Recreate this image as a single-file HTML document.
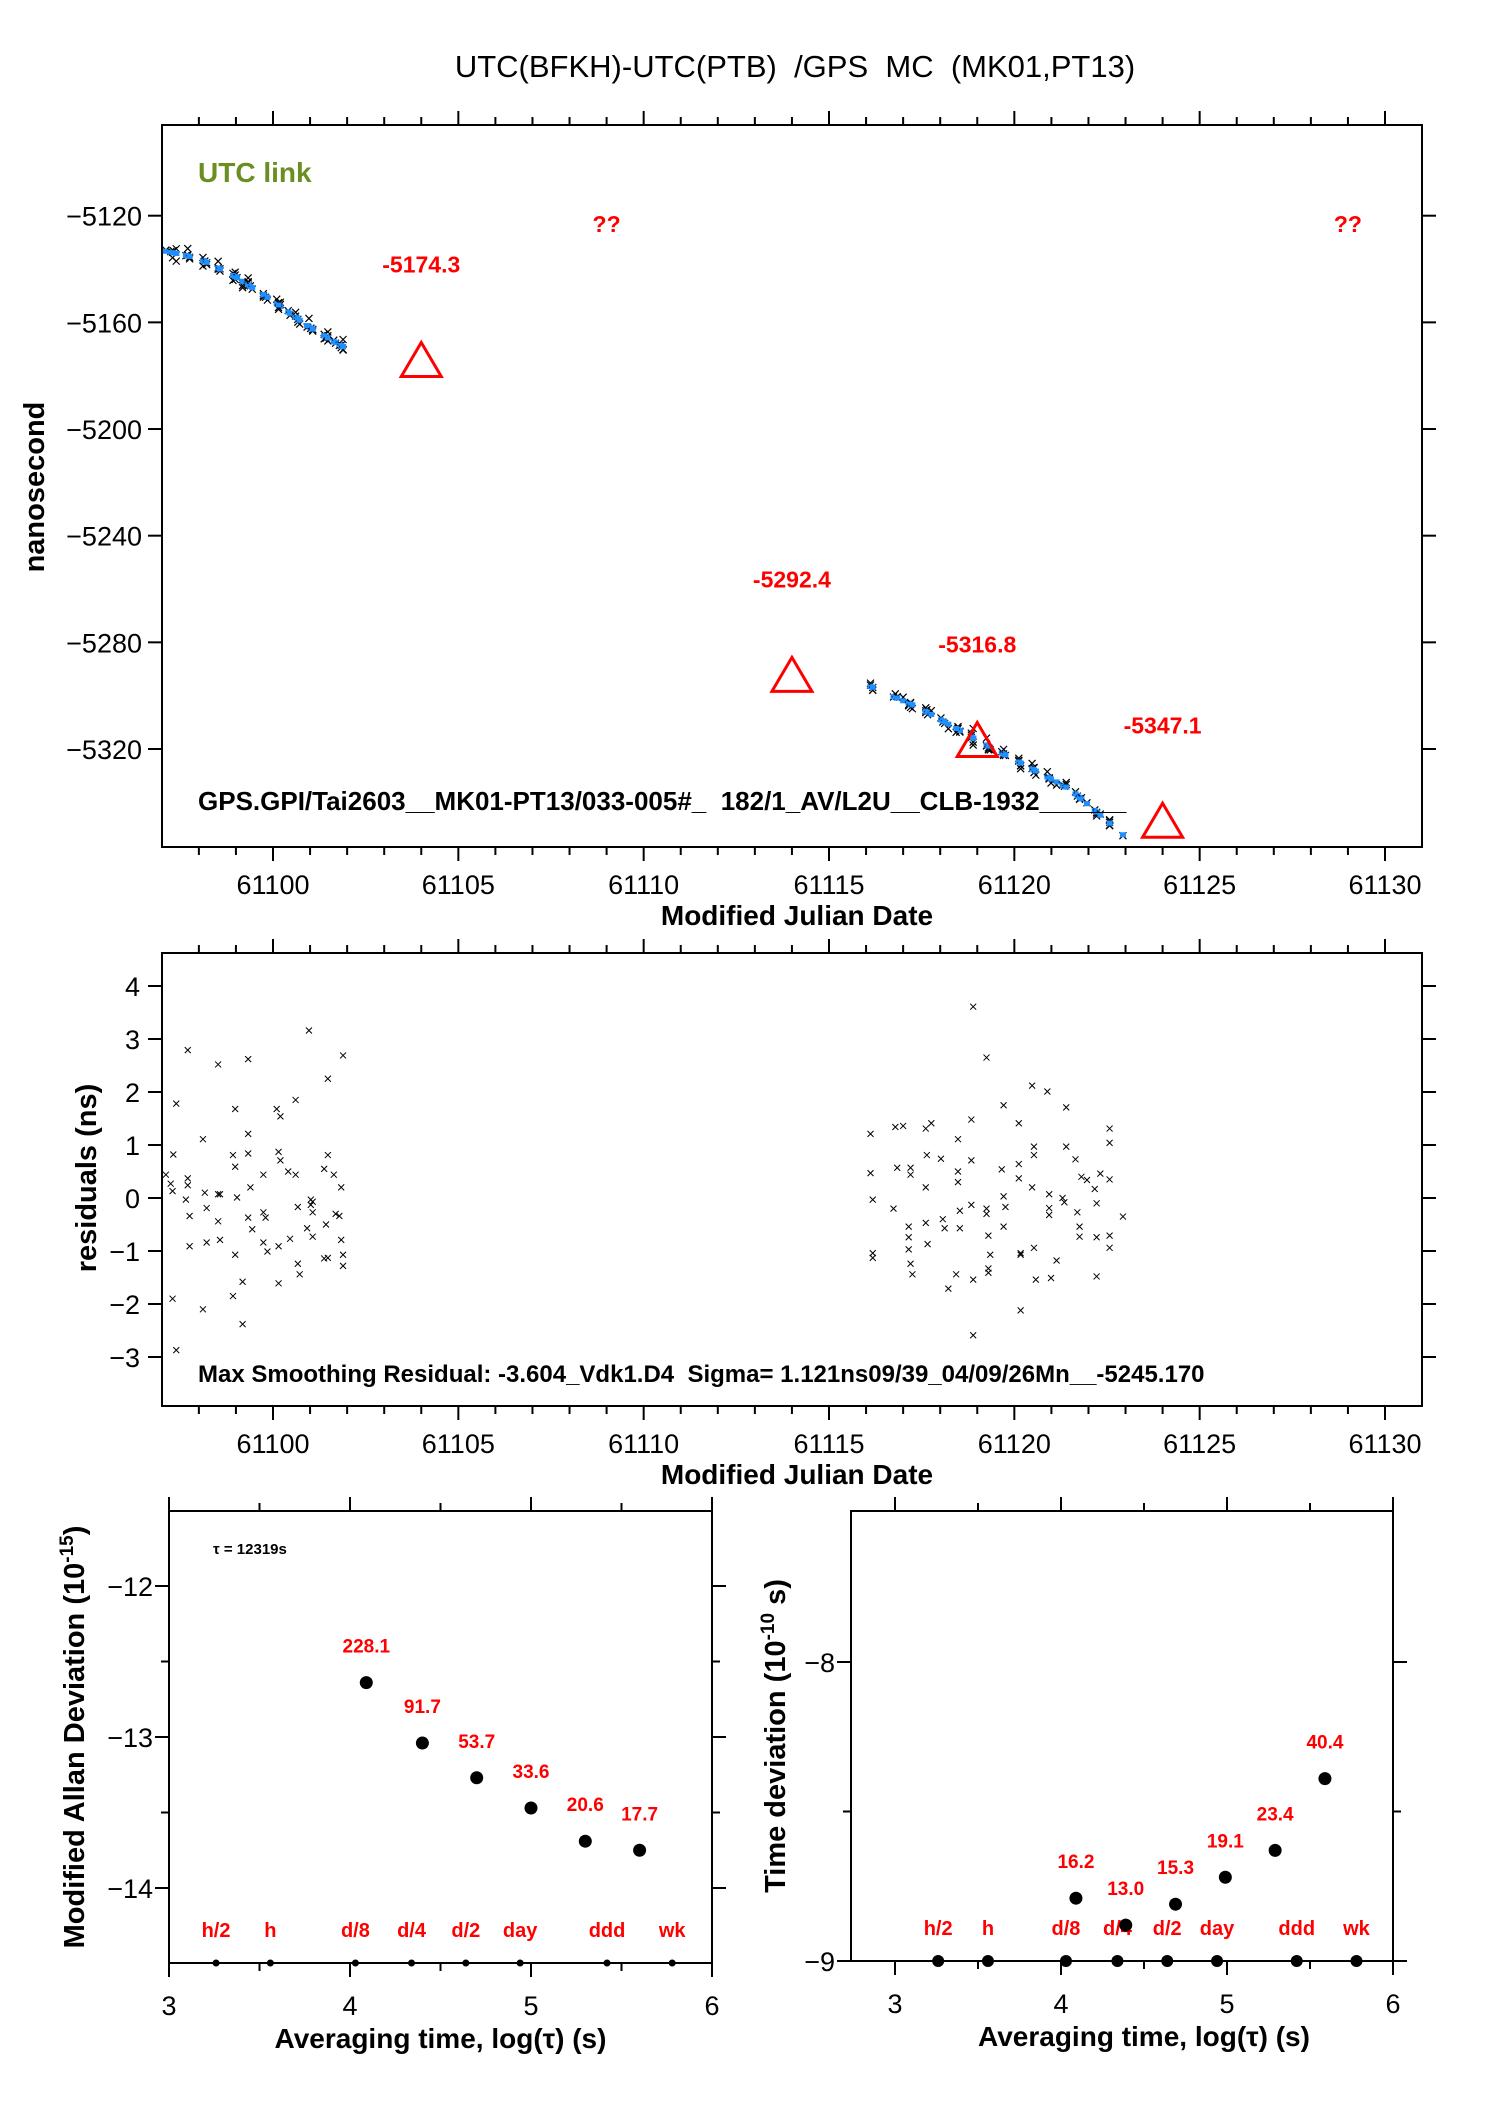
<!DOCTYPE html>
<html><head><meta charset="utf-8"><style>
html,body{margin:0;padding:0;background:#fff}
svg{display:block;font-family:"Liberation Sans",sans-serif}
text{white-space:pre}
</style></head><body>
<svg id="s" width="1488" height="2105" viewBox="0 0 1488 2105" xmlns="http://www.w3.org/2000/svg">
<text x="795" y="77" font-size="31" text-anchor="middle">UTC(BFKH)-UTC(PTB)  /GPS  MC  (MK01,PT13)</text>
<g id="topPlot"></g>
<g id="midPlot"></g>
<g id="adevPlot"></g>
<g id="tdevPlot"></g>
</svg>
<script>
// ---- data ----
const resMjdA=[61097.11,61097.24,61097.29,61097.31,61097.39,61097.29,61097.39,61097.70,61097.70,61097.70,61097.75,61097.65,61097.75,61098.11,61098.11,61098.16,61098.21,61098.21,61098.52,61098.52,61098.57,61098.52,61098.57,61098.92,61098.98,61098.98,61098.98,61098.92,61099.03,61099.18,61099.18,61099.33,61099.33,61099.33,61099.33,61099.39,61099.44,61099.74,61099.74,61099.80,61099.74,61099.85,61100.10,61100.15,61100.20,61100.20,61100.15,61100.15,61100.41,61100.46,61100.61,61100.61,61100.67,61100.67,61100.72,61100.97,61101.02,61101.07,61101.02,61101.07,61100.92,61101.07,61101.38,61101.48,61101.48,61101.43,61101.38,61101.48,61101.64,61101.69,61101.79,61101.84,61101.89,61101.84,61101.89,61101.89];
const resValA=[0.44,0.27,0.13,0.82,1.78,-1.90,-2.87,2.79,0.37,0.24,-0.34,-0.03,-0.91,1.11,-2.10,0.10,-0.19,-0.84,2.52,0.07,0.07,-0.44,-0.79,0.81,0.59,1.68,-1.07,-1.85,0.01,-2.38,-1.58,0.84,1.21,2.62,-0.37,0.20,-0.59,0.44,-0.27,-0.37,-0.84,-1.01,1.68,0.87,1.54,0.71,-0.91,-1.61,0.50,-0.77,1.85,0.44,-0.17,-1.24,-1.44,3.16,-0.03,-0.07,-0.13,-0.27,-0.57,-0.73,0.55,0.81,2.25,-0.50,-1.14,-1.13,0.44,-0.30,-0.34,0.20,2.69,-0.79,-1.07,-1.28];
const resMjdB=[61116.12,61116.12,61116.18,61116.18,61116.18,61116.74,61116.79,61116.84,61117.00,61117.15,61117.15,61117.15,61117.20,61117.20,61117.20,61117.25,61117.61,61117.61,61117.64,61117.61,61117.66,61117.76,61118.02,61118.07,61118.12,61118.48,61118.48,61118.48,61118.53,61118.53,61118.43,61118.22,61118.84,61118.84,61118.84,61118.89,61118.89,61118.89,61119.25,61119.25,61119.25,61119.30,61119.30,61119.35,61119.30,61119.66,61119.71,61119.71,61119.71,61119.76,61120.12,61120.12,61120.12,61120.17,61120.17,61120.17,61120.48,61120.53,61120.53,61120.48,61120.53,61120.58,61120.89,61120.94,61120.94,61120.94,61120.99,61121.14,61121.30,61121.35,61121.40,61121.40,61121.65,61121.70,61121.76,61121.76,61121.81,61121.96,61122.17,61122.22,61122.22,61122.22,61122.32,61122.57,61122.57,61122.57,61122.57,61122.57,61122.93];
const resValB=[1.21,0.47,-0.03,-1.04,-1.13,-0.20,1.34,0.57,1.36,-0.54,-0.74,-0.97,0.57,0.44,-1.24,-1.44,1.31,0.20,0.81,-0.47,-0.87,1.41,0.74,-0.40,-0.57,1.11,0.50,0.30,-0.24,-0.57,-1.44,-1.71,1.48,0.71,-0.13,-1.54,-2.59,3.61,2.65,-0.20,-0.30,-1.33,-1.41,-1.07,-0.71,0.54,1.75,-0.54,0.03,-0.17,1.41,0.64,0.37,-1.04,-1.07,-2.12,2.12,0.97,0.81,0.20,-0.94,-1.54,2.01,0.07,-0.19,-0.32,-1.51,-1.18,0.00,-0.08,1.71,0.97,0.73,-0.27,-0.54,-0.73,0.40,0.34,0.17,-0.10,-0.74,-1.48,0.46,1.31,1.04,0.35,-0.71,-0.94,-0.35];
const smoothMjdA=[61097.0,61098.0,61099.0,61100.0,61101.0,61102.0];
const smoothValA=[-5133,-5136,-5143,-5152,-5162,-5170];
const smoothMjdB=[61116.2,61117.5,61118.9,61120.0,61121.5,61123.0];
const smoothValB=[-5297,-5305,-5316,-5324,-5335,-5353];
const triMjd=[61104,61114,61119,61124];
const triVal=[-5174.3,-5292.4,-5316.8,-5347.1];
const triLbl=["-5174.3","-5292.4","-5316.8","-5347.1"];
const qqMjd=[61109,61129];
const mjdTicks=[61100,61105,61110,61115,61120,61125,61130];
const nsTicks=[-5120,-5160,-5200,-5240,-5280,-5320];
const resTicks=[4,3,2,1,0,-1,-2,-3];
const adevX=[4.09,4.40,4.70,5.00,5.30,5.60];
const adevY=[-12.64,-13.04,-13.27,-13.47,-13.69,-13.75];
const adevLbl=["228.1","91.7","53.7","33.6","20.6","17.7"];
const tdevX=[4.09,4.39,4.69,4.99,5.29,5.59];
const tdevY=[-8.79,-8.88,-8.81,-8.72,-8.63,-8.39];
const tdevLbl=["16.2","13.0","15.3","19.1","23.4","40.4"];
const markX=[3.26,3.56,4.03,4.34,4.64,4.94,5.42,5.78];
const markLbl=["h/2","h","d/8","d/4","d/2","day","ddd","wk"];
const adevTicks=[-12,-13,-14];
const tdevTicks=[-8,-9];
const logTicks=[3,4,5,6];

const NS="http://www.w3.org/2000/svg";
function el(p,t,a,txt){const e=document.createElementNS(NS,t);for(const k in a)e.setAttribute(k,a[k]);if(txt!==undefined)e.textContent=txt;p.appendChild(e);return e;}
function lin(d0,d1,r0,r1){return v=>r0+(v-d0)*(r1-r0)/(d1-d0);}
function interp(xs,ys,x){for(let i=0;i<xs.length-1;i++){if(x<=xs[i+1]||i===xs.length-2){return ys[i]+(x-xs[i])*(ys[i+1]-ys[i])/(xs[i+1]-xs[i]);}}}
function cross(g,x,y,s,c,w){el(g,'path',{d:`M${x-s},${y-s}L${x+s},${y+s}M${x-s},${y+s}L${x+s},${y-s}`,stroke:c,'stroke-width':w,fill:'none'});}

const L=162,R=1422;
const X=lin(61100,61130,273,1385);
const topG=document.getElementById('topPlot');
const Y1=lin(-5120,-5320,215.7,749);
function frameMjd(g,T,B){
 const f=el(g,'rect',{x:L,y:T,width:R-L,height:B-T,fill:'none',stroke:'#000','stroke-width':2});
 
 
 for(let d=61098;d<=61130;d++){const x=X(d);const big=d%5===0;const len=big?14:8;
  el(g,'line',{x1:x,y1:T,x2:x,y2:T-len,stroke:'#000','stroke-width':2});
  el(g,'line',{x1:x,y1:B,x2:x,y2:B+len,stroke:'#000','stroke-width':2});}
 mjdTicks.forEach(v=>{const t=el(g,'text',{x:X(v),y:B+47,'font-size':27,'text-anchor':'middle'},String(v));
  
  });
 const tt=el(g,'text',{x:797,y:B+78,'font-size':28,'font-weight':'bold','text-anchor':'middle'},'Modified Julian Date');
 
 
}
frameMjd(topG,125,847);
nsTicks.forEach(v=>{const y=Y1(v);
 el(topG,'line',{x1:L-14,y1:y,x2:L,y2:y,stroke:'#000','stroke-width':2});
 el(topG,'line',{x1:R,y1:y,x2:R+14,y2:y,stroke:'#000','stroke-width':2});
 const t=el(topG,'text',{x:L-20,y:y+10,'font-size':27,'text-anchor':'end'},'\u2212'+String(-v));
 
 });
{const t=el(topG,'text',{x:44,y:487,'font-size':29,'font-weight':'bold','text-anchor':'middle',transform:'rotate(-90 44 487)'},'nanosecond');
 
 }
{const t=el(topG,'text',{x:198,y:182,'font-size':28,'font-weight':'bold',fill:'#6b8e23'},'UTC link');
 
 }
function drawSeg(ms,vs,sm,sv){
 ms.forEach((m,i)=>{const s=interp(sm,sv,m);const x=X(m);
  const c=document.createElementNS(NS,'g');topG.appendChild(c);
  
  
  cross(c,x,Y1(s+vs[i]),3.5,'#000',1.2);
  el(c,'rect',{x:x-3,y:Y1(s)-2.5,width:6,height:5,fill:'#1e90ff'});});
}
drawSeg(resMjdA,resValA,smoothMjdA,smoothValA);
drawSeg(resMjdB,resValB,smoothMjdB,smoothValB);
triMjd.forEach((m,i)=>{const x=X(m),y=Y1(triVal[i]);
 const p=el(topG,'path',{d:`M${x},${y-18}L${x+20},${y+16}L${x-20},${y+16}Z`,fill:'none',stroke:'#ff0000','stroke-width':3});
 
 
 const t=el(topG,'text',{x:x,y:y-88,'font-size':23,'font-weight':'bold',fill:'#ff0000','text-anchor':'middle'},triLbl[i]);
 
 });
qqMjd.forEach(m=>{const t=el(topG,'text',{x:X(m),y:232,'font-size':23,'font-weight':'bold',fill:'#ff0000','text-anchor':'middle'},'??');
 
 });
{const t=el(topG,'text',{x:198,y:810,'font-size':26,'font-weight':'bold'},'GPS.GPI/Tai2603__MK01-PT13/033-005#_  182/1_AV/L2U__CLB-1932______');
 
 }

const midG=document.getElementById('midPlot');
const Y2=lin(4,-3,986,1357);
frameMjd(midG,953,1406);
resTicks.forEach(v=>{const y=Y2(v);
 el(midG,'line',{x1:L-14,y1:y,x2:L,y2:y,stroke:'#000','stroke-width':2});
 el(midG,'line',{x1:R,y1:y,x2:R+14,y2:y,stroke:'#000','stroke-width':2});
 const t=el(midG,'text',{x:L-22,y:y+10,'font-size':27,'text-anchor':'end'},v<0?'\u2212'+(-v):String(v));
 
 });
{const t=el(midG,'text',{x:96,y:1178,'font-size':29,'font-weight':'bold','text-anchor':'middle',transform:'rotate(-90 96 1178)'},'residuals (ns)');
 
 }
[[resMjdA,resValA],[resMjdB,resValB]].forEach(([ms,vs])=>ms.forEach((m,i)=>{
 const g=document.createElementNS(NS,'g');midG.appendChild(g);
 
 
 cross(g,X(m),Y2(vs[i]),3,'#000',1);}));
{const t=el(midG,'text',{x:198,y:1382,'font-size':24,'font-weight':'bold'},'Max Smoothing Residual: -3.604_Vdk1.D4  Sigma= 1.121ns09/39_04/09/26Mn__-5245.170');
 
 }

function logPlot(g,l,r,x3,x6,T,B,yA,yB,vA,vB,ticks,minor,px,py,lbl,big,tx){
 const XL=lin(3,6,x3,x6),YL=lin(vA,vB,yA,yB);
 el(g,'rect',{x:l,y:T,width:r-l,height:B-T,fill:'none',stroke:'#000','stroke-width':2});
 for(let v=3;v<=6.001;v+=0.5){const x=XL(v);const len=(v%1===0)?14:8;
  el(g,'line',{x1:x,y1:T,x2:x,y2:T-len,stroke:'#000','stroke-width':2});
  el(g,'line',{x1:x,y1:B,x2:x,y2:B+len,stroke:'#000','stroke-width':2});}
 logTicks.forEach(v=>{const t=el(g,'text',{x:XL(v),y:B+52,'font-size':27,'text-anchor':'middle'},String(v));
  
  });
 const tt=el(g,'text',{x:(x3+x6)/2,y:B+85,'font-size':28,'font-weight':'bold','text-anchor':'middle'},'Averaging time, log(\u03c4) (s)');
 
 
 minor.forEach(v=>{const y=YL(v);
  el(g,'line',{x1:l-8,y1:y,x2:l,y2:y,stroke:'#000','stroke-width':2});
  el(g,'line',{x1:r,y1:y,x2:r+8,y2:y,stroke:'#000','stroke-width':2});});
 ticks.forEach(v=>{const y=YL(v);
  el(g,'line',{x1:l-14,y1:y,x2:l,y2:y,stroke:'#000','stroke-width':2});
  el(g,'line',{x1:r,y1:y,x2:r+14,y2:y,stroke:'#000','stroke-width':2});
  const t=el(g,'text',{x:l-16,y:y+10,'font-size':27,'text-anchor':'end'},'\u2212'+(-v));
  
  });
 markX.forEach((m,i)=>{
  const d=el(g,'circle',{cx:XL(m),cy:B,r:big?6:3.5,fill:'#000'});
  
  
  const t=el(g,'text',{x:XL(m),y:B-26,'font-size':20,'font-weight':'bold',fill:'#ff0000','text-anchor':'middle'},markLbl[i]);
  
  });
 px.forEach((v,i)=>{
  const c=el(g,'circle',{cx:XL(v),cy:YL(py[i]),r:6.5,fill:'#000'});
  
  
  const t=el(g,'text',{x:XL(v),y:YL(py[i])-30,'font-size':19,'font-weight':'bold',fill:'#ff0000','text-anchor':'middle'},lbl[i]);
  
  });
 const yt=el(g,'text',{x:tx,y:(T+B)/2,'font-size':29,'font-weight':'bold','text-anchor':'middle',transform:`rotate(-90 ${tx} ${(T+B)/2})`});
 
 
 return yt;
}
const adevG=document.getElementById('adevPlot');
const t1=logPlot(adevG,169,712,169,712,1511,1963,1586,1737,-12,-13,adevTicks,[-12.5,-13.5],adevX,adevY,adevLbl,false,84);
t1.appendChild(document.createTextNode('Modified Allan Deviation (10'));
el(t1,'tspan',{dy:-11,'font-size':19},'-15');
el(t1,'tspan',{dy:11},')');
{const t=el(adevG,'text',{x:213,y:1554,'font-size':15,'font-weight':'bold'},'\u03c4 = 12319s');
 
 }
const tdevG=document.getElementById('tdevPlot');
const t2=logPlot(tdevG,851,1393,895,1393,1511,1961,1662,1961,-8,-9,tdevTicks,[-8.5],tdevX,tdevY,tdevLbl,true,785);
t2.appendChild(document.createTextNode('Time deviation (10'));
el(t2,'tspan',{dy:-11,'font-size':19},'-10');
el(t2,'tspan',{dy:11},' s)');
</script>
</body></html>
